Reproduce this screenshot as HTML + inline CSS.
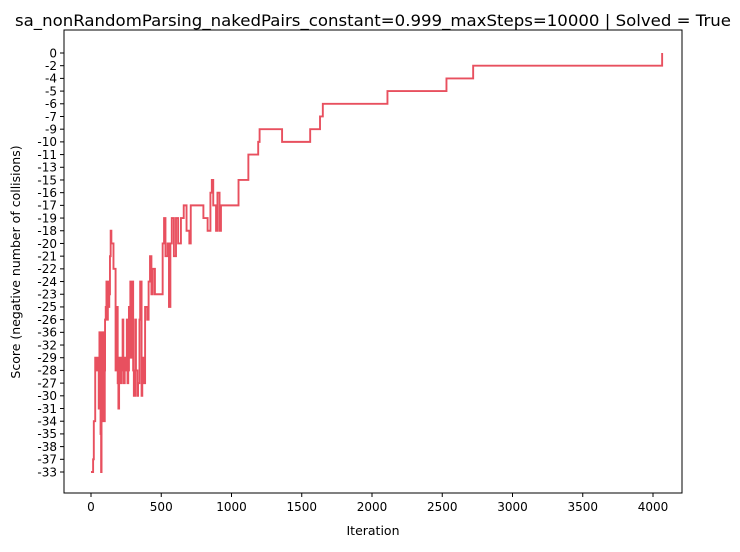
<!DOCTYPE html>
<html><head><meta charset="utf-8"><style>
html,body{margin:0;padding:0;background:#fff;}
svg text{font-family:"DejaVu Sans","Liberation Sans",sans-serif;fill:#000;}
</style></head><body>
<svg id="chart" width="740" height="547" viewBox="0 0 740 547" xmlns="http://www.w3.org/2000/svg">
<rect width="740" height="547" fill="#fff"/>
<text x="373" y="26" font-size="16" text-anchor="middle" textLength="716" lengthAdjust="spacingAndGlyphs">sa_nonRandomParsing_nakedPairs_constant=0.999_maxSteps=10000 | Solved = True</text>
<g id="yticks"></g><g id="xticks"></g>
<path id="line" fill="none" stroke="#e8505f" stroke-width="1.9" stroke-linejoin="miter"/>
<rect x="64" y="30" width="618" height="463" fill="none" stroke="#000" stroke-width="1"/>
<text x="373" y="535" font-size="12.5" text-anchor="middle">Iteration</text>
<text transform="translate(20,262) rotate(-90)" font-size="12.5" text-anchor="middle">Score (negative number of collisions)</text>
</svg>
<script>
const categories = ["0","-2","-4","-5","-6","-7","-9","-10","-11","-13","-15","-16","-17","-19","-18","-20","-21","-22","-24","-23","-25","-26","-36","-32","-29","-28","-27","-30","-31","-34","-35","-38","-37","-33"];
const xTicks = [0,500,1000,1500,2000,2500,3000,3500,4000];
const iterations = [0,15,20,30,35,45,50,55,60,62,65,68,70,72,75,78,80,82,85,88,90,92,95,98,100,105,110,115,120,125,130,135,140,145,150,160,175,180,185,190,195,200,205,210,215,220,225,230,240,245,255,260,265,270,275,280,285,290,300,305,315,320,330,335,345,350,360,365,375,385,400,410,420,430,440,455,500,510,520,530,545,555,565,575,590,605,620,640,660,680,700,710,760,800,830,850,860,870,890,900,915,925,1050,1120,1190,1200,1360,1560,1630,1650,2110,2530,2720,4060,4065];
const scores = [-33,-37,-34,-29,-28,-29,-28,-31,-36,-30,-32,-35,-36,-33,-34,-36,-32,-27,-36,-34,-27,-28,-34,-28,-26,-25,-24,-26,-24,-25,-23,-21,-18,-20,-20,-22,-28,-26,-25,-27,-31,-29,-28,-27,-29,-28,-26,-27,-29,-28,-26,-27,-28,-25,-29,-24,-29,-24,-28,-30,-26,-28,-30,-27,-26,-24,-30,-29,-27,-25,-26,-24,-21,-23,-22,-23,-23,-20,-19,-21,-20,-25,-20,-19,-21,-19,-20,-19,-17,-18,-20,-17,-17,-19,-18,-16,-15,-17,-18,-16,-18,-17,-15,-11,-10,-9,-10,-9,-7,-6,-5,-4,-2,-2,0];
const NS="http://www.w3.org/2000/svg";
const x = v => 91 + v*(653-91)/4000;
const y = s => { const i = categories.indexOf(String(s)); return 53 + i*(472-53)/(categories.length-1); };
const yt=document.getElementById('yticks'), xt=document.getElementById('xticks');
categories.forEach(c=>{
  const yy=y(c);
  const l=document.createElementNS(NS,'line');
  
  
  l.setAttribute('x1',60);l.setAttribute('x2',64);l.setAttribute('y1',yy);l.setAttribute('y2',yy);l.setAttribute('stroke','#000');
  yt.appendChild(l);
  const t=document.createElementNS(NS,'text');
  
  
  t.setAttribute('x',57);t.setAttribute('y',yy+4.3);t.setAttribute('font-size','12');t.setAttribute('text-anchor','end');
  t.textContent=c; yt.appendChild(t);
});
xTicks.forEach(v=>{
  const xx=x(v);
  const l=document.createElementNS(NS,'line');
  
  
  l.setAttribute('x1',xx);l.setAttribute('x2',xx);l.setAttribute('y1',493);l.setAttribute('y2',497);l.setAttribute('stroke','#000');
  xt.appendChild(l);
  const t=document.createElementNS(NS,'text');
  
  
  t.setAttribute('x',xx);t.setAttribute('y',511);t.setAttribute('font-size','12');t.setAttribute('text-anchor','middle');
  t.textContent=v; xt.appendChild(t);
});
let d='';
iterations.forEach((it,i)=>{
  if(i===0) d+='M'+x(it)+','+y(scores[i]);
  else d+=' H'+x(it)+' V'+y(scores[i]);
});
document.getElementById('line').setAttribute('d',d);
</script>
</body></html>
